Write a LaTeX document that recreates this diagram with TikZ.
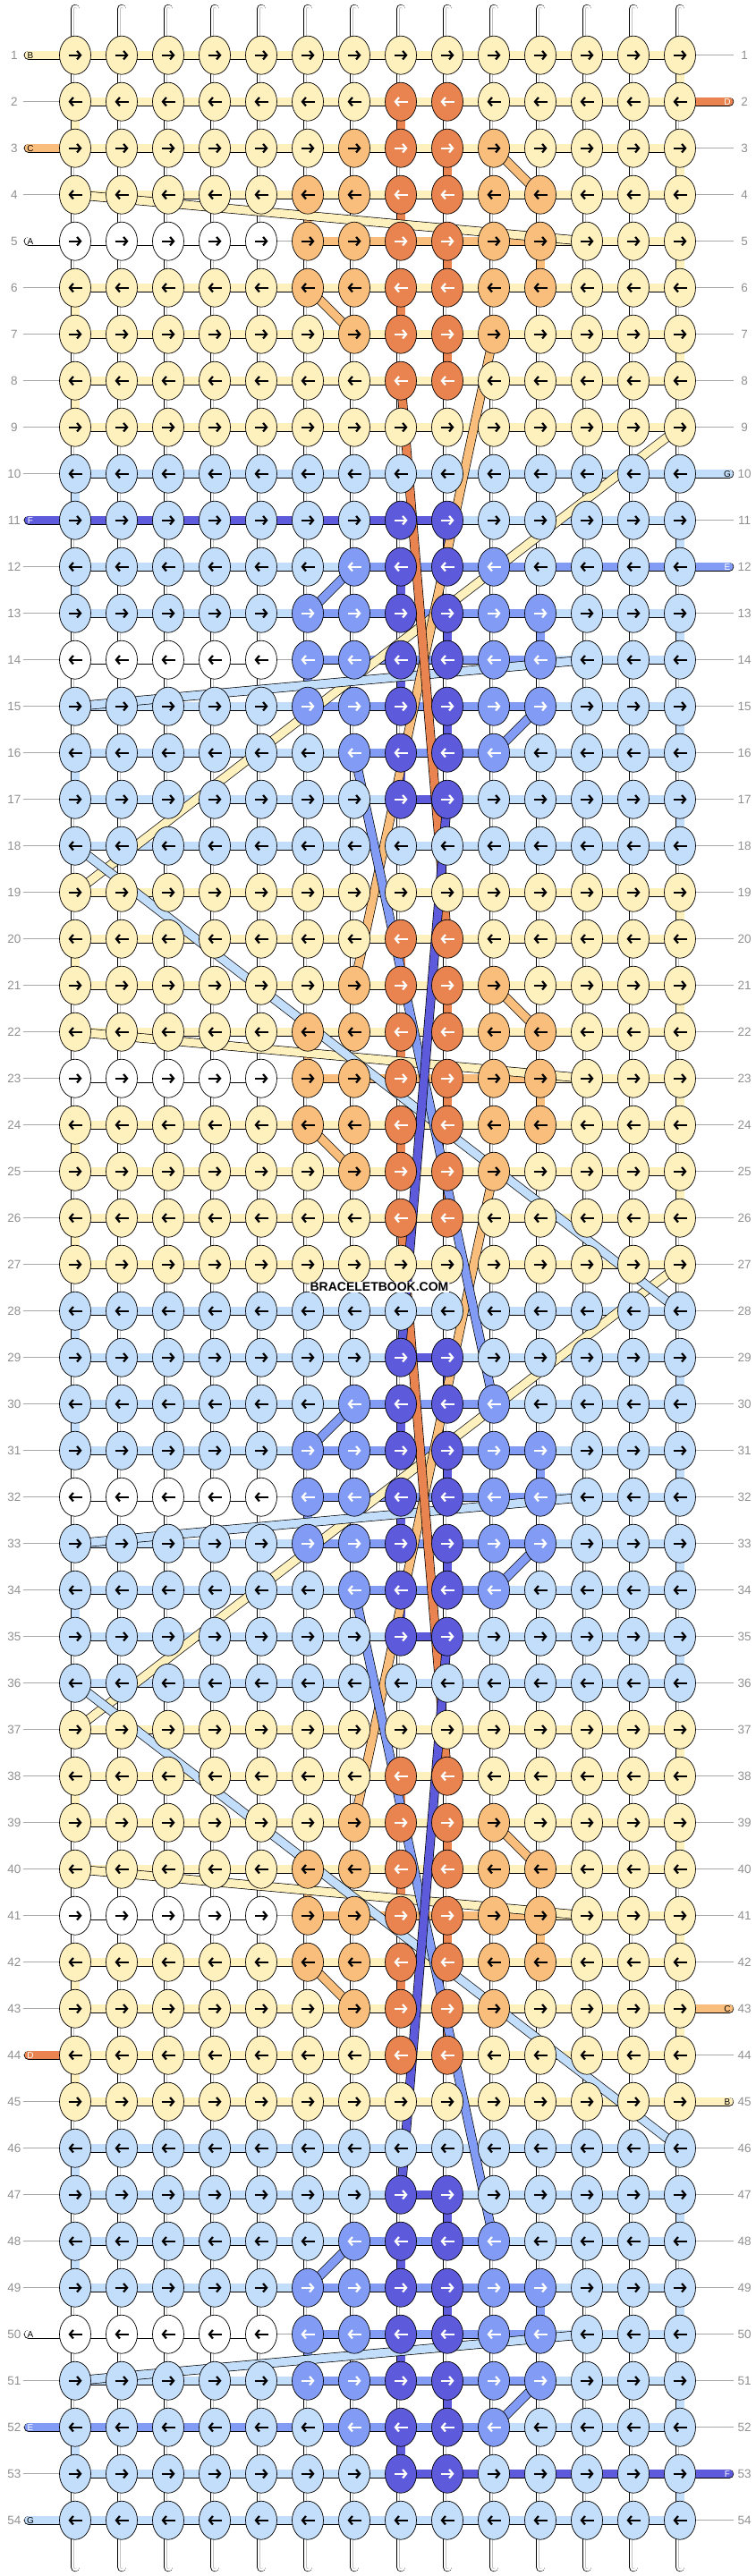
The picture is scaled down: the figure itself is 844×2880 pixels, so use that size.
\documentclass[tikz,border=0pt]{standalone}
\usepackage{fontspec}
\setmainfont{Liberation Sans}
\usepackage{tikz}
\usetikzlibrary{shapes.geometric, arrows.meta}
\definecolor{knotY}{HTML}{FFF1BE}
\definecolor{knotO}{HTML}{F9BE7C}
\definecolor{knotR}{HTML}{E9834F}
\definecolor{knotL}{HTML}{C3DEFB}
\definecolor{knotM}{HTML}{829CF6}
\definecolor{knotP}{HTML}{5D5ADB}
\definecolor{knotW}{HTML}{FFFFFF}
\definecolor{rulegray}{HTML}{A8A8A8}
\definecolor{numgray}{HTML}{909090}

% block, offset and colours of one row
\newcommand\rowinfo[1]{%
  \pgfmathtruncatemacro\blk{int((#1-1)/9)}%
  \pgfmathtruncatemacro\off{mod(#1-1,9)}%
  \pgfmathtruncatemacro\lev{min(min(\off,8-\off),3)}%
  \pgfmathtruncatemacro\yel{mod(\blk,2)==0 ? 1 : 0}%
  \ifnum\yel=1 \def\cb{knotY}\def\cl{knotO}\def\cd{knotR}%
  \else \def\cb{knotL}\def\cl{knotM}\def\cd{knotP}\fi}

\begin{document}
\begin{tikzpicture}[x=1pt, y=-1pt,
    knot/.style={ellipse, draw, line width=0.7pt, minimum width=35pt,
                 minimum height=43pt, inner sep=0pt},
    thread/.style={double=#1, double distance=9pt, line width=0.7pt},
    basestrand/.style={draw=rulegray!70, double=white, double distance=3pt,
                       line width=0.4pt},
    endline/.style={draw=rulegray, line width=0.8pt},
    knotarrow/.style={line width=2.2pt, -{Straight Barb[length=4pt, width=9.5pt]}},
    rownum/.style={font=\fontsize{13.5}{14}\selectfont, text=numgray, inner sep=0pt},
    tag/.style={font=\fontsize{10}{10}\selectfont, inner sep=0pt}
  ]
  \useasboundingbox (0,0) rectangle (844,2880);

  % grid points
  \foreach \row in {1,...,54} {
    \foreach \col in {1,...,14}
      \coordinate (p\row-\col) at ({84+(\col-1)*52},{61.7+(\row-1)*52});
    \coordinate (gl\row) at (26,{61.7+(\row-1)*52});
    \coordinate (gr\row) at (820,{61.7+(\row-1)*52});
    \coordinate (tl\row) at (32,{61.7+(\row-1)*52});
    \coordinate (tr\row) at (815,{61.7+(\row-1)*52});
  }

  % base strands, top and bottom
  \foreach \col in {1,...,14} {
    \coordinate (top\col) at ({84+(\col-1)*52},10);
    \coordinate (bot\col) at ({84+(\col-1)*52},2870);
    \draw[thread=white, line cap=round] (top\col) -- (p1-\col);
    \draw[basestrand, line cap=round] (top\col) -- (p1-\col);
    \draw[thread=white, line cap=round] (p54-\col) -- (bot\col);
    \draw[basestrand, line cap=round] (p54-\col) -- (bot\col);
  }

  % vertical pieces between rows
  \foreach \row in {1,...,53} {
    \rowinfo{\row}
    \pgfmathtruncatemacro\rn{\row+1}
    \pgfmathtruncatemacro\edge{(\off==8 || (\yel==1 && \off==3) || (\yel==0 && \off==4)) ? 0 : (mod(\row,2)==1 ? 14 : 1)}
    \pgfmathtruncatemacro\dark{(\off>=1 && \off<=6) ? (mod(\off,2)==\yel ? 8 : 9) : 0}
    \pgfmathtruncatemacro\light{\off==3 ? (\yel==1 ? 6 : 11) : (\off==4 ? (\yel==1 ? 11 : 6) : 0)}
    \foreach \col in {1,...,14} {
      \def\vc{}%
      \ifnum\col=\edge \let\vc\cb \fi
      \ifnum\col=\dark \let\vc\cd \fi
      \ifnum\col=\light \let\vc\cl \fi
      \ifx\vc\empty
        \draw[thread=white] (p\row-\col) -- (p\rn-\col);
        \draw[basestrand] (p\row-\col) -- (p\rn-\col);
      \else
        \draw[thread=\vc] (p\row-\col) -- (p\rn-\col);
      \fi
    }
  }

  % horizontal pieces in each row
  \foreach \row in {1,...,54} {
    \rowinfo{\row}
    \foreach \col in {1,...,13} {
      \pgfmathtruncatemacro\cn{\col+1}
      \pgfmathtruncatemacro\hk{\off==4 ? (\col<=4 ? 1 : (\col==5 ? 9 : (\col<=10 ? 2 : 0))) : ((\yel==0 && \lev==1 && \col==8) ? 3 : ((\yel==0 && \lev>=2 && \col>=9-\lev && \col<=7+\lev) ? 2 : 0))}
      \ifnum\row=11 \ifnum\col<9 \def\hk{3}\fi\fi
      \ifnum\row=12 \ifnum\col>6 \def\hk{2}\fi\fi
      \ifnum\row=52 \ifnum\col<10 \def\hk{2}\fi\fi
      \ifnum\row=53 \ifnum\col>7 \def\hk{3}\fi\fi
      \ifnum\hk=9
        \draw[endline] (p\row-\col) -- (p\row-\cn);
      \else
        \ifcase\hk \let\hc\cb \or \def\hc{knotW}\or \let\hc\cl \or \let\hc\cd \fi
        \draw[thread=\hc] (p\row-\col) -- (p\row-\cn);
      \fi
    }
  }

  % row ends
  \foreach \row in {1,...,54} {
    \draw[endline] (gl\row) -- (p\row-1);
    \draw[endline] (p\row-14) -- (gr\row);
    \node[rownum] (nl\row) at ([xshift=-10]gl\row) {\row};
    \node[rownum] (nr\row) at ([xshift=12]gr\row) {\row};
  }

  % strings that start or end
  \foreach \row/\lc/\ltr/\tc in {1/knotY/B/black, 3/knotO/C/black, 5/knotW/A/black,
      11/knotP/F/white, 44/knotR/D/white, 50/knotW/A/black, 52/knotM/E/white,
      54/knotL/G/black} {
    \draw[thread=\lc, line cap=round] (tl\row) -- (p\row-1);
    \node[tag, text=\tc] (la\row) at ([xshift=2]tl\row) {\ltr};
  }
  \foreach \row/\lc/\ltr/\tc in {2/knotR/D/white, 10/knotL/G/black, 12/knotM/E/white,
      43/knotO/C/black, 45/knotY/B/black, 53/knotP/F/white} {
    \draw[thread=\lc, line cap=round] (p\row-14) -- (tr\row);
    \node[tag, text=\tc] (ra\row) at ([xshift=-2]tr\row) {\ltr};
  }

  % short carries inside the diamonds
  \foreach \b in {0,...,5} {
    \pgfmathtruncatemacro\ra{9*\b+3}
    \pgfmathtruncatemacro\rb{9*\b+4}
    \pgfmathtruncatemacro\rc{9*\b+6}
    \pgfmathtruncatemacro\rd{9*\b+7}
    \ifodd\b
      \draw[thread=knotM] (p\ra-7) -- (p\rb-6);
      \draw[thread=knotM] (p\rc-11) -- (p\rd-10);
    \else
      \draw[thread=knotO] (p\ra-10) -- (p\rb-11);
      \draw[thread=knotO] (p\rc-6) -- (p\rd-7);
    \fi
  }

  % long carries
  \foreach \a/\b/\lc in {p4-1/p5-12/knotY, p9-14/p19-1/knotY, p22-1/p23-12/knotY,
      p27-14/p37-1/knotY, p40-1/p41-12/knotY,
      p14-12/p15-1/knotL, p18-1/p28-14/knotL, p32-12/p33-1/knotL,
      p36-1/p46-14/knotL, p50-12/p51-1/knotL,
      p7-10/p21-7/knotO, p25-10/p39-7/knotO,
      p8-8/p20-9/knotR, p26-8/p38-9/knotR,
      p16-7/p30-10/knotM, p34-7/p48-10/knotM,
      p17-9/p29-8/knotP, p35-9/p47-8/knotP}
    \draw[thread=\lc] (\a) -- (\b);

  % knots
  \foreach \row in {1,...,54} {
    \rowinfo{\row}
    \ifodd\row \def\xa{-7.5}\def\xb{7.5}\else \def\xa{7.5}\def\xb{-7.5}\fi
    \foreach \col in {1,...,14} {
      \pgfmathtruncatemacro\dist{abs(2*\col-17)}
      \pgfmathtruncatemacro\kind{\dist<=2*\lev-1 ? (\dist==1 ? 3 : 2) : ((\off==4 && \col<=5) ? 1 : 0)}
      \ifcase\kind \let\kc\cb \or \def\kc{knotW}\or \let\kc\cl \or \let\kc\cd \fi
      \pgfmathtruncatemacro\wa{(\kind==3 || (\kind==2 && \yel==0)) ? 1 : 0}
      \ifnum\wa=1 \def\ac{white}\else \def\ac{black}\fi
      \node[knot, fill=\kc] (k\row-\col) at (p\row-\col) {};
      \draw[knotarrow, draw=\ac] ([xshift=\xa]k\row-\col.center) -- ([xshift=\xb]k\row-\col.center);
    }
  }

  \node[font=\bfseries\fontsize{14}{14}\selectfont, fill=white, inner sep=1pt] (mark)
    at (424,1439) {BRACELETBOOK.COM};
\end{tikzpicture}
\end{document}
